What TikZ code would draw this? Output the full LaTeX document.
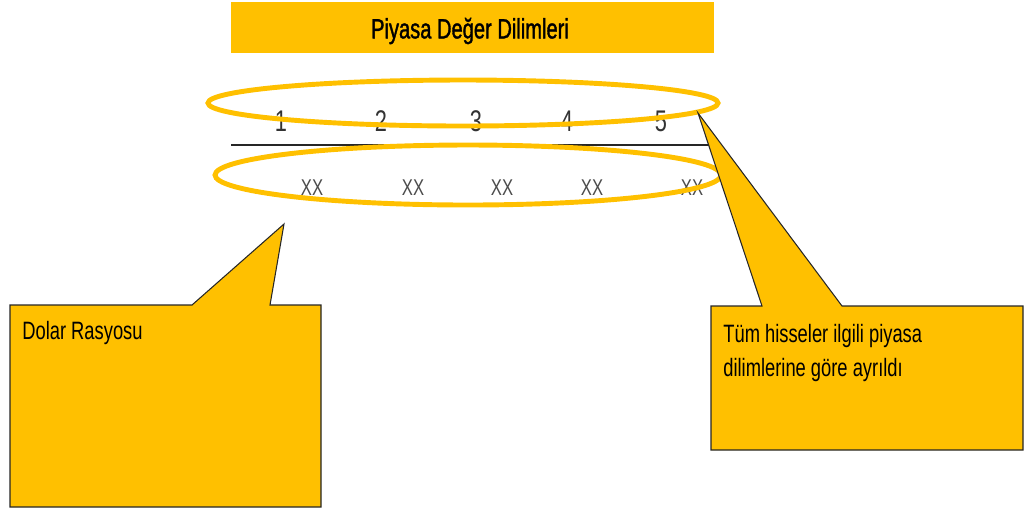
\documentclass[tikz,border=0pt]{standalone}
\usepackage{fontspec}
\setmainfont{Liberation Sans}[FakeStretch=0.73]
\newfontfamily\headfont{Liberation Sans}[FakeStretch=0.72, FakeBold=1.2]
\usetikzlibrary{calc}

\definecolor{gold}{HTML}{FFC000}

\tikzset{
  ring/.style={draw=gold, line width=2.8pt},
  callout/.style={fill=gold, draw=black!85, line width=0.6pt, line join=miter},
  note/.style={inner sep=0pt, font=\fontsize{14.3}{19.3}\selectfont, align=left},
}

\begin{document}
\begin{tikzpicture}[x=0.02cm, y=-0.02cm]
    \useasboundingbox (0,0) rectangle (1026,512);

    % header bar
    \fill[gold] (231,2) rectangle (714,53);
    \node[font=\headfont\fontsize{15.9}{18}\selectfont] (title) at (470,31) {Piyasa Değer Dilimleri};

    % scale with slice numbers
    \foreach \px/\lbl in {281/1, 381/2, 476/3, 567/4, 661/5}
      \node[text=black!80, font=\fontsize{17}{20}\selectfont] (n\lbl) at (\px,121) {\lbl};
    \draw[black!85, line width=1.2pt] (231,145) -- (710,145);
    \foreach \px/\k in {312/1, 413/2, 502/3, 592/4, 692/5}
      \node[text=black!70, font=\fontsize{13}{15}\selectfont] (v\k) at (\px,188) {XX};

    % rings round both rows
    \draw[ring] (463,103) ellipse [x radius=255, y radius=23];
    \draw[ring] (468,175) ellipse [x radius=253, y radius=30];

    % callouts
    \coordinate (tipL) at (284,224);
    \coordinate (tipR) at (698,113);
    \draw[callout] (10,305) -- (192,305) -- (tipL) -- (270,305)
      -- (321,305) -- (321,507) -- (10,507) -- cycle;
    \draw[callout] (711,306) -- (762,306) -- (tipR) -- (842,306)
      -- (1023,306) -- (1023,450) -- (711,450) -- cycle;

    \node[note, anchor=north west] (dolar) at (22,321) {Dolar Rasyosu};
    \node[note, anchor=north west] (hisse) at (723,324)
      {Tüm hisseler ilgili piyasa\\dilimlerine göre ayrıldı};
\end{tikzpicture}
\end{document}
